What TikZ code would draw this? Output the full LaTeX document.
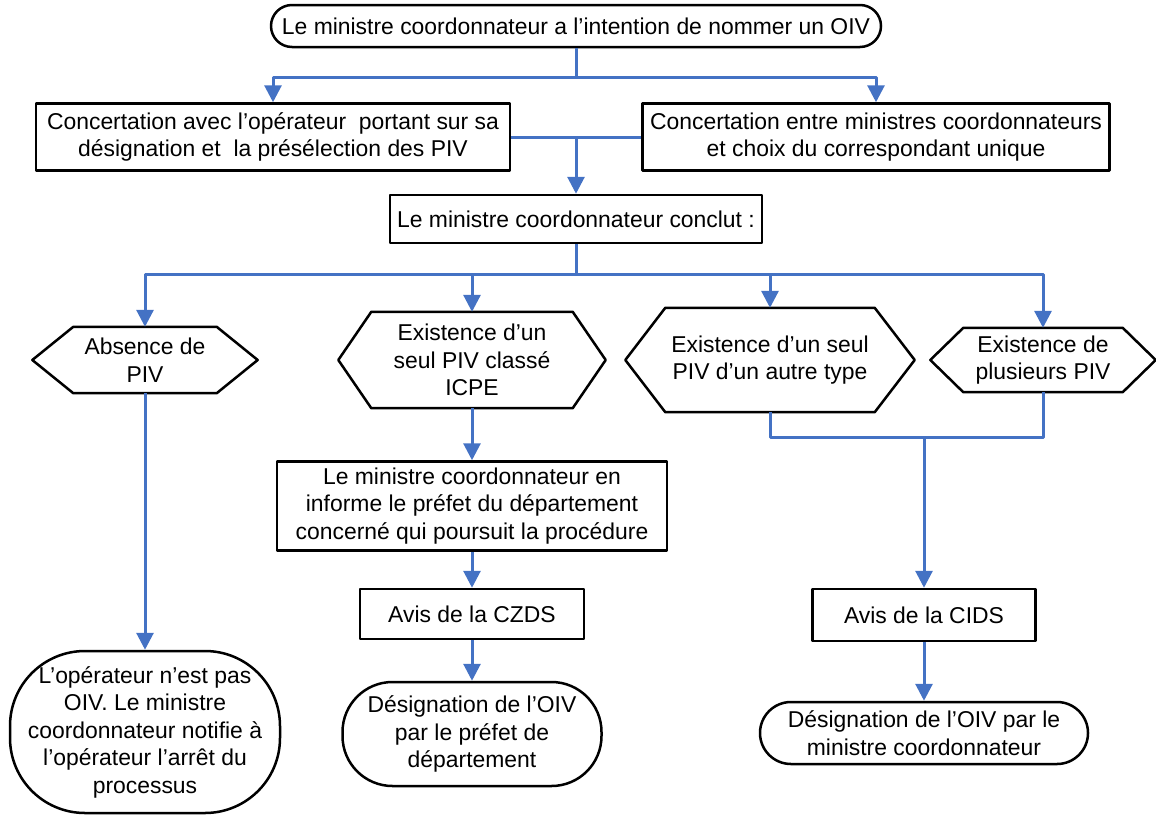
\documentclass[tikz,border=0pt]{standalone}
\usepackage{fontspec}
\setmainfont{Liberation Sans}
\usetikzlibrary{arrows.meta}
\definecolor{flowblue}{RGB}{68,114,196}
\begin{document}
\begin{tikzpicture}[x=1pt, y=-1pt, font=\fontsize{22.9}{27.5}\selectfont, line join=round,
  box/.style 2 args={draw, line width=2.5pt, align=center, inner sep=0pt, minimum width=#1, minimum height=#2},
  term/.style n args={3}{box={#1}{#2}, rounded corners=#3},
  hexa/.style 2 args={align=center, inner sep=0pt, minimum width=#1, minimum height=#2},
  link/.style={draw=flowblue, line width=3pt},
  flow/.style={link, -{Triangle[length=17pt, width=17pt]}}]
\useasboundingbox (0,0) rectangle (1156,814);
% top of the procedure
\node[term={610pt}{42pt}{21pt}] (intention) at (576,26) {Le ministre coordonnateur a l’intention de nommer un OIV};
\node[box={474pt}{67pt}] (operateur) at (273,137) {Concertation avec l’opérateur\ \ portant sur sa\\ désignation et\ \ la présélection des PIV};
\node[box={467pt}{67pt}] (ministres) at (876,137) {Concertation entre ministres coordonnateurs\\ et choix du correspondant unique};
\node[box={372pt}{48pt}] (conclut) at (576,219) {Le ministre coordonnateur conclut :};
% the four cases
\node[hexa={225pt}{66pt}] (absence) at (145,360) {Absence de\\ PIV};
\node[hexa={267pt}{96pt}] (icpe) at (472,360) {Existence d’un\\ seul PIV classé\\ ICPE};
\node[hexa={289pt}{104pt}] (autre) at (770,360) {Existence d’un seul\\ PIV d’un autre type};
\node[hexa={225pt}{64pt}] (plusieurs) at (1043,360) {Existence de\\ plusieurs PIV};
\foreach \n/\d in {absence/41pt, icpe/33pt, autre/40pt, plusieurs/33pt}
  \draw[line width=2.5pt] (\n.west) -- ([xshift=\d]\n.north west) -- ([xshift=-\d]\n.north east)
    -- (\n.east) -- ([xshift=-\d]\n.south east) -- ([xshift=\d]\n.south west) -- cycle;
% outcomes
\node[term={270pt}{162pt}{75pt}] (nonoiv) at (145,732) {L’opérateur n’est pas\\ OIV. Le ministre\\ coordonnateur notifie à\\ l’opérateur l’arrêt du\\ processus};
\node[box={390pt}{89pt}] (prefet) at (472,506) {Le ministre coordonnateur en\\ informe le préfet du département\\ concerné qui poursuit la procédure};
\node[box={224pt}{50pt}] (czds) at (472,614) {Avis de la CZDS};
\node[term={259pt}{104pt}{50pt}] (desprefet) at (472,734) {Désignation de l’OIV\\ par le préfet de\\ département};
\node[box={223pt}{52pt}] (cids) at (924,615) {Avis de la CIDS};
\node[term={328pt}{62pt}{31pt}] (desministre) at (924,733) {Désignation de l’OIV par le\\ ministre coordonnateur};
% connectors
\coordinate (j1) at (576,77);
\coordinate (j2) at (576,137);
\coordinate (j3) at (576,274);
\coordinate (j4) at (924,437);
\draw[link] (intention) -- (j1);
\draw[flow] (j1) -| (operateur);
\draw[flow] (j1) -| (ministres);
\draw[link] (operateur) -- (ministres);
\draw[flow] (j2) -- (conclut);
\draw[link] (conclut) -- (j3);
\foreach \n in {absence, icpe, autre, plusieurs}
  \draw[flow] (j3) -| (\n.north);
\draw[flow] (absence) -- (nonoiv);
\draw[flow] (icpe) -- (prefet);
\draw[flow] (prefet) -- (czds);
\draw[flow] (czds) -- (desprefet);
\draw[link] (autre.south) |- (j4) -| (plusieurs.south);
\draw[flow] (j4) -- (cids);
\draw[flow] (cids) -- (desministre);
\end{tikzpicture}
\end{document}
